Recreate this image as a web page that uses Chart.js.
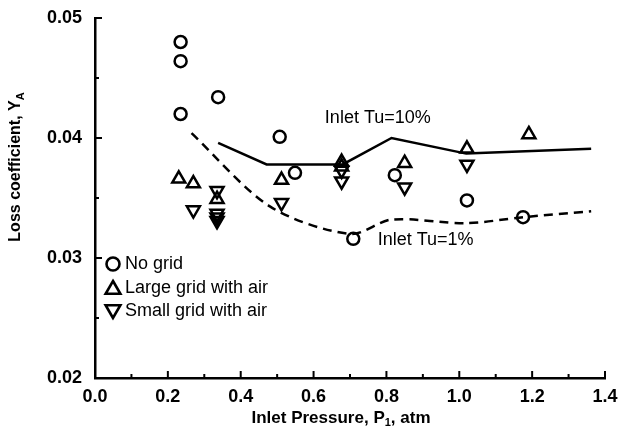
<!DOCTYPE html>
<html>
<head>
<meta charset="utf-8">
<script src="https://cdn.jsdelivr.net/npm/chart.js@4"></script>
<style>
  body { margin: 0; background: #fff; }
</style>
</head>
<body>
<canvas id="grafico" width="618" height="429"></canvas>
<script>
// datos
const noGridP = [0.235, 0.235, 0.235, 0.338, 0.507, 0.549, 0.709, 0.823, 1.021, 1.175];
const noGridY = [0.0480, 0.0464, 0.0420, 0.0434, 0.0401, 0.0371, 0.0316, 0.0369, 0.0348, 0.0334];

const largeGridP = [0.230, 0.270, 0.335, 0.512, 0.677, 0.677, 0.850, 1.021, 1.191];
const largeGridY = [0.0366, 0.0362, 0.0349, 0.0365, 0.0380, 0.0376, 0.0379, 0.0391, 0.0403];

const smallGridP = [0.270, 0.335, 0.335, 0.335, 0.335, 0.512, 0.677, 0.677, 0.850, 1.021];
const smallGridY = [0.0340, 0.0356, 0.0337, 0.0334, 0.0331, 0.0346, 0.0373, 0.0364, 0.0359, 0.0378];

const tu10P = [0.338, 0.471, 0.680, 0.814, 1.019, 1.362];
const tu10Y = [0.0396, 0.0378, 0.0378, 0.0400, 0.0387, 0.0391];

const tu1P = [0.265, 0.480, 0.700, 0.814, 1.019, 1.175, 1.362];
const tu1Y = [0.0404, 0.0343, 0.0320, 0.0332, 0.0329, 0.0334, 0.0339];

const xTicksMinor = [0.1, 0.3, 0.5, 0.7, 0.9, 1.1, 1.3];
const yTicksMinor = [0.025, 0.035, 0.045];

const legendLabels = ['No grid', 'Large grid with air', 'Small grid with air'];

const toPoints = (xs, ys) => xs.map((x, i) => ({ x: x, y: ys[i] }));
const fuente = 'Liberation Sans, Arial, sans-serif';

// marcas de los ejes hacia adentro, textos y leyenda
const decoracion = {
  id: 'decoracion',
  afterDatasetsDraw(chart) {
    const ctx = chart.ctx;
    const x = chart.scales.x;
    const y = chart.scales.y;
    ctx.save();
    ctx.strokeStyle = '#000';
    ctx.fillStyle = '#000';
    ctx.lineWidth = 2;

    x.ticks.forEach(t => {
      const px = x.getPixelForValue(t.value);
      ctx.beginPath(); ctx.moveTo(px, y.bottom); ctx.lineTo(px, y.bottom - 7); ctx.stroke();
    });
    xTicksMinor.forEach(v => {
      const px = x.getPixelForValue(v);
      ctx.beginPath(); ctx.moveTo(px, y.bottom); ctx.lineTo(px, y.bottom - 4); ctx.stroke();
    });
    y.ticks.forEach(t => {
      const py = y.getPixelForValue(t.value);
      ctx.beginPath(); ctx.moveTo(x.left, py); ctx.lineTo(x.left + 7, py); ctx.stroke();
    });
    yTicksMinor.forEach(v => {
      const py = y.getPixelForValue(v);
      ctx.beginPath(); ctx.moveTo(x.left, py); ctx.lineTo(x.left + 4, py); ctx.stroke();
    });

    // etiquetas de las curvas
    ctx.font = '18px ' + fuente;
    ctx.textBaseline = 'middle';
    ctx.textAlign = 'left';
    ctx.fillText('Inlet Tu=10%', x.getPixelForValue(0.631), y.getPixelForValue(0.04167));
    ctx.fillText('Inlet Tu=1%', x.getPixelForValue(0.776), y.getPixelForValue(0.0315));

    // leyenda
    const estilos = [
      { pointStyle: 'circle', radius: 6.5, rotation: 0 },
      { pointStyle: 'triangle', radius: 8.5, rotation: 0 },
      { pointStyle: 'triangle', radius: 8.5, rotation: 180 }
    ];
    const lx = x.left + 18;
    const ly = [264, 288, 311];
    ctx.lineWidth = 2.6;
    estilos.forEach((e, i) => {
      ctx.fillStyle = 'rgba(0,0,0,0)';
      Chart.helpers.drawPoint(ctx, { pointStyle: e.pointStyle, radius: e.radius, rotation: e.rotation, borderWidth: 2.6 }, lx, ly[i] + (i === 1 ? 1.5 : i === 2 ? -1.5 : 0));
      ctx.fillStyle = '#000';
      ctx.fillText(legendLabels[i], lx + 12, ly[i]);
    });

    // titulos de los ejes con subindices
    ctx.font = 'bold 17px ' + fuente;
    ctx.textAlign = 'left';
    const tx = 'Inlet Pressure, P';
    const w1 = ctx.measureText(tx).width;
    ctx.font = 'bold 11px ' + fuente;
    const wSub = ctx.measureText('1').width;
    ctx.font = 'bold 17px ' + fuente;
    const w2 = ctx.measureText(', atm').width;
    let sx = 341 - (w1 + wSub + w2) / 2;
    ctx.fillText(tx, sx, 418);
    ctx.font = 'bold 11px ' + fuente;
    ctx.fillText('1', sx + w1, 423);
    ctx.font = 'bold 17px ' + fuente;
    ctx.fillText(', atm', sx + w1 + wSub, 418);

    ctx.font = 'bold 16px ' + fuente;
    ctx.translate(16, 167);
    ctx.rotate(-Math.PI / 2);
    const ty = 'Loss coefficient, Y';
    const wy = ctx.measureText(ty).width;
    ctx.font = 'bold 11px ' + fuente;
    const wa = ctx.measureText('A').width;
    ctx.font = 'bold 16px ' + fuente;
    const sy = -(wy + wa) / 2;
    ctx.fillText(ty, sy, 0);
    ctx.font = 'bold 11px ' + fuente;
    ctx.fillText('A', sy + wy, 5);
    ctx.restore();
  }
};

const ctx = document.getElementById('grafico').getContext('2d');
const myChart = new Chart(ctx, {
  type: 'scatter',
  data: {
    datasets: [
      {
        label: 'Inlet Tu=10%',
        data: toPoints(tu10P, tu10Y),
        showLine: true,
        borderColor: '#000',
        borderWidth: 2.5,
        pointRadius: 0
      },
      {
        label: 'Inlet Tu=1%',
        data: toPoints(tu1P, tu1Y),
        showLine: true,
        borderColor: '#000',
        borderWidth: 2.5,
        borderDash: [9, 6],
        tension: 0.3,
        pointRadius: 0
      },
      {
        label: legendLabels[0],
        data: toPoints(noGridP, noGridY),
        pointStyle: 'circle',
        pointRadius: 6,
        pointBorderWidth: 2.5,
        borderColor: '#000',
        backgroundColor: 'rgba(0,0,0,0)'
      },
      {
        label: legendLabels[1],
        data: toPoints(largeGridP, largeGridY),
        pointStyle: 'triangle',
        pointRadius: 7.5,
        pointBorderWidth: 2.5,
        borderColor: '#000',
        backgroundColor: 'rgba(0,0,0,0)'
      },
      {
        label: legendLabels[2],
        data: toPoints(smallGridP, smallGridY),
        pointStyle: 'triangle',
        rotation: 180,
        pointRadius: 7.5,
        pointBorderWidth: 2.5,
        borderColor: '#000',
        backgroundColor: 'rgba(0,0,0,0)'
      }
    ]
  },
  options: {
    responsive: false,
    animation: false,
    layout: { padding: { left: 0, top: 18, right: 13, bottom: 0 } },
    plugins: {
      legend: { display: false },
      tooltip: { enabled: false }
    },
    scales: {
      x: {
        type: 'linear',
        min: 0,
        max: 1.4,
        grid: { display: false },
        border: { display: true, color: '#000', width: 2.5 },
        ticks: {
          stepSize: 0.2,
          color: '#000',
          padding: 0,
          font: { family: fuente, size: 18, weight: 'bold' },
          callback: v => v.toFixed(1)
        },
        afterFit: axis => {
          axis.height = 51;
          axis.paddingLeft = 0;
          axis.paddingRight = 0;
        }
      },
      y: {
        type: 'linear',
        min: 0.02,
        max: 0.05,
        grid: { display: false },
        border: { display: true, color: '#000', width: 2.5 },
        ticks: {
          stepSize: 0.01,
          color: '#000',
          padding: 5,
          font: { family: fuente, size: 18, weight: 'bold' },
          callback: v => v.toFixed(2)
        },
        afterFit: axis => {
          axis.width = 95;
          axis.paddingTop = 0;
          axis.paddingBottom = 0;
        }
      }
    }
  },
  plugins: [decoracion]
});
</script>
</body>
</html>
